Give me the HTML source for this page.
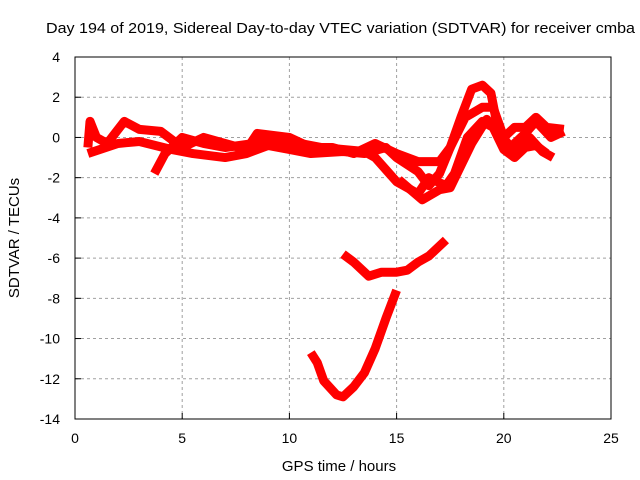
<!DOCTYPE html>
<html><head><meta charset="utf-8"><style>
body{margin:0;background:#fff}
svg{display:block;font-family:"Liberation Sans",sans-serif;font-size:14px}
</style></head><body>
<svg id="c" width="640" height="480">
<text x="46" y="33" textLength="589" lengthAdjust="spacingAndGlyphs" style="font-size:15px">Day 194 of 2019, Sidereal Day-to-day VTEC variation (SDTVAR) for receiver cmba</text>
<text x="339" y="471" text-anchor="middle" style="font-size:15px">GPS time / hours</text>
<text transform="translate(19,238) rotate(-90)" text-anchor="middle" style="font-size:15px">SDTVAR / TECUs</text>
<g id="grid"></g><g id="ticks"></g><g id="marks"></g>
<rect x="75" y="57" width="536" height="362" fill="none" stroke="#000"/>
</svg>
<script>
const xTicks=[0,5,10,15,20,25];
const yTicks=[4,2,0,-2,-4,-6,-8,-10,-12,-14];
const seriesA=[[0.6,-0.5],[0.7,0.8],[1,0],[1.5,-0.3],[2.3,0.8],[3,0.4],[4,0.3],[5,-0.5],[6,0],[7,-0.3],[8,-0.6],[8.5,0.2],[10,0],[11,-0.5],[12,-0.5],[13,-0.8],[14,-0.3],[15,-0.8],[16,-1.2],[17,-1.2],[17.5,-0.5],[18.2,1],[19,1.5],[19.5,1.5],[20,0],[20.5,0.5],[21,0.5],[21.5,1.0],[22,0.5],[22.8,0.4]];
const seriesB=[[0.6,-0.8],[2,-0.3],[3,-0.2],[4.5,-0.6],[5.5,-0.8],[7,-1],[8,-0.8],[9,-0.4],[10,-0.6],[11,-0.8],[12.5,-0.7],[13.5,-0.8],[14.5,-0.5],[15,-1],[16,-1.7],[16.5,-2.4],[17,-1.8],[17.5,-0.5],[18,1],[18.5,2.4],[19,2.6],[19.4,2.2],[19.8,0],[20.3,-0.5],[21,0.2],[21.5,0.8],[22.2,0],[22.8,0.3]];
const seriesC=[[3.7,-1.8],[4.2,-0.8],[5,0],[6,-0.3],[7,-0.5],[9,-0.2],[10,-0.2],[11.5,-0.5],[13.5,-0.7],[14,-1],[14.5,-1.6],[15,-2.2],[16,-2.8],[16.5,-2],[17.3,-2.4],[17.7,-1.8],[18.3,0],[19,0.8],[19.5,0.5],[20,-0.6],[20.5,-1],[21,-0.5],[21.5,-0.4],[22,-0.8]];
const seriesD=[[15.1,-2.1],[16.2,-3.1],[17,-2.6],[17.5,-2.5],[18.5,-0.3],[19.2,0.9],[19.8,0.2],[20.5,-0.7],[21.2,0],[21.8,-0.7],[22.3,-1]];
const seriesE=[[12.5,-5.8],[13,-6.2],[13.7,-6.9],[14.3,-6.7],[15,-6.7],[15.5,-6.6],[16,-6.2],[16.5,-5.9],[17.3,-5.1]];
const seriesF=[[11,-10.7],[11.3,-11.2],[11.6,-12.1],[12.2,-12.8],[12.5,-12.9],[13,-12.4],[13.5,-11.7],[14,-10.5],[14.5,-9],[15,-7.6]];
const allSeries=[seriesA,seriesB,seriesC,seriesD,seriesE,seriesF];
const X=h=>75+h*(536/25), Y=v=>57+(4-v)*(362/18);
const NS="http://www.w3.org/2000/svg";
function mk(t,a,p){const e=document.createElementNS(NS,t);for(const k in a)e.setAttribute(k,a[k]);document.getElementById(p).appendChild(e);return e;}
xTicks.forEach(t=>{
 if(t>0&&t<25){const g=mk('line',{x1:X(t),x2:X(t),y1:57,y2:419,stroke:'#a0a0a0','stroke-dasharray':'3,3'},'grid');
 
 }
 const l=mk('text',{x:X(t),y:443,'text-anchor':'middle'},'ticks');l.textContent=t;
 
 
 mk('line',{x1:X(t),x2:X(t),y1:419,y2:413,stroke:'#000'},'ticks');
});
yTicks.forEach(t=>{
 if(t<4&&t>-14){const g=mk('line',{x1:75,x2:611,y1:Y(t),y2:Y(t),stroke:'#a0a0a0','stroke-dasharray':'3,3'},'grid');
 
 }
 const l=mk('text',{x:60,y:Y(t)+5,'text-anchor':'end'},'ticks');l.textContent=t;
 
 
 mk('line',{x1:75,x2:81,y1:Y(t),y2:Y(t),stroke:'#000'},'ticks');
});
allSeries.forEach((s,i)=>{
 const p=mk('polyline',{points:s.map(d=>X(d[0])+','+Y(d[1])).join(' '),fill:'none',stroke:'#ff0000','stroke-width':9,'stroke-linejoin':'round','stroke-linecap':'butt'},'marks');
 
 
});
</script>
</body></html>
